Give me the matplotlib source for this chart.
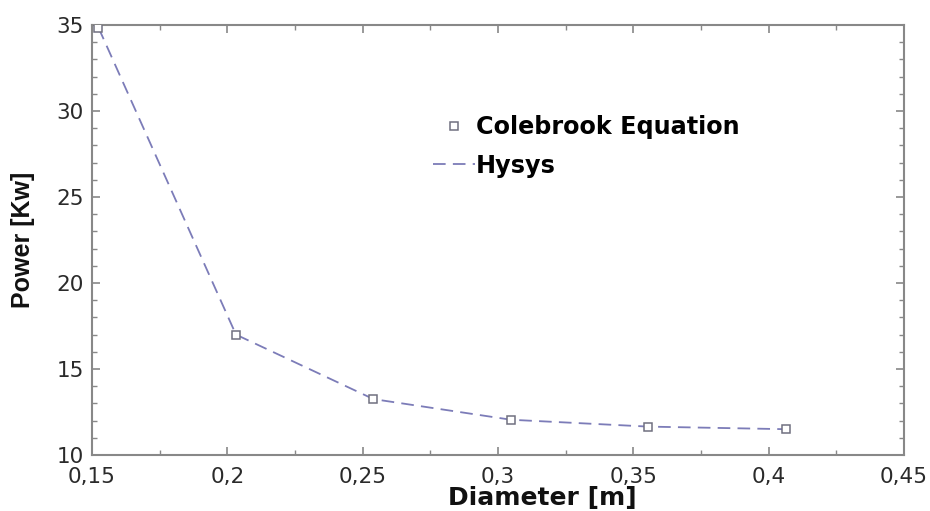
import matplotlib
matplotlib.use("Agg")
import matplotlib.pyplot as plt
from matplotlib.ticker import MultipleLocator, FuncFormatter

plt.rcParams['font.family'] = ['DejaVu Sans']

diameter = [0.1524, 0.2032, 0.254, 0.3048, 0.3556, 0.4064]
colebrook = [34.85, 17.0, 13.25, 12.05, 11.65, 11.5]
hysys = [34.85, 17.0, 13.25, 12.05, 11.65, 11.5]

fig = plt.figure(figsize=(9.3, 5.11), dpi=100)
ax = fig.add_axes([0.0989, 0.1096, 0.8731, 0.8414])

line_color = '#7c7cb8'
ax.plot(diameter, hysys, linestyle=(0, (7, 4)), color=line_color, linewidth=1.3,
        label='Hysys', zorder=2)
ax.plot(diameter, colebrook, linestyle='none', marker='s', markersize=6,
        markerfacecolor='white', markeredgecolor='#707080', markeredgewidth=1.1,
        label='Colebrook Equation', zorder=3)

ax.set_xlim(0.15, 0.45)
ax.set_ylim(10, 35)
ax.xaxis.set_major_locator(MultipleLocator(0.05))
ax.xaxis.set_minor_locator(MultipleLocator(0.025))
ax.yaxis.set_major_locator(MultipleLocator(5))
ax.yaxis.set_minor_locator(MultipleLocator(1))

def comma_fmt(v, pos):
    s = ('%.2f' % v).rstrip('0').rstrip('.')
    return s.replace('.', ',')

ax.xaxis.set_major_formatter(FuncFormatter(comma_fmt))
ax.yaxis.set_major_formatter(FuncFormatter(lambda v, p: '%d' % round(v)))

spine_col = '#888888'
for s in ax.spines.values():
    s.set_color(spine_col)
    s.set_linewidth(1.5)
ax.tick_params(which='both', direction='in', top=True, right=True, color=spine_col,
               labelsize=15.5, labelcolor='#2a2a2a')
ax.tick_params(which='major', length=6, width=1.2)
ax.tick_params(axis='x', which='major', pad=9)
ax.tick_params(axis='y', which='major', pad=6)
ax.tick_params(which='minor', length=3.5, width=1.0)

ax.set_xlabel('Diameter [m]', fontsize=18, fontweight='bold', labelpad=0, color='#111111')
ax.xaxis.set_label_coords(0.555, -0.072, transform=ax.transAxes)
ax.xaxis.label.set_va('top')
ax.set_ylabel('Power [Kw]', fontsize=18, fontweight='bold', labelpad=15, color='#111111',
              family=['Liberation Sans', 'DejaVu Sans'])

handles, labels = ax.get_legend_handles_labels()
leg = fig.legend([handles[1], handles[0]], [labels[1], labels[0]],
                 loc='upper left', bbox_to_anchor=(433 / 930, 1 - 115 / 511),
                 frameon=False, prop={'weight': 'bold', 'size': 17.2},
                 handlelength=1.75, handletextpad=0.05, labelspacing=0.62,
                 borderaxespad=0, borderpad=0)

fig.savefig('out.png', dpi=100)
